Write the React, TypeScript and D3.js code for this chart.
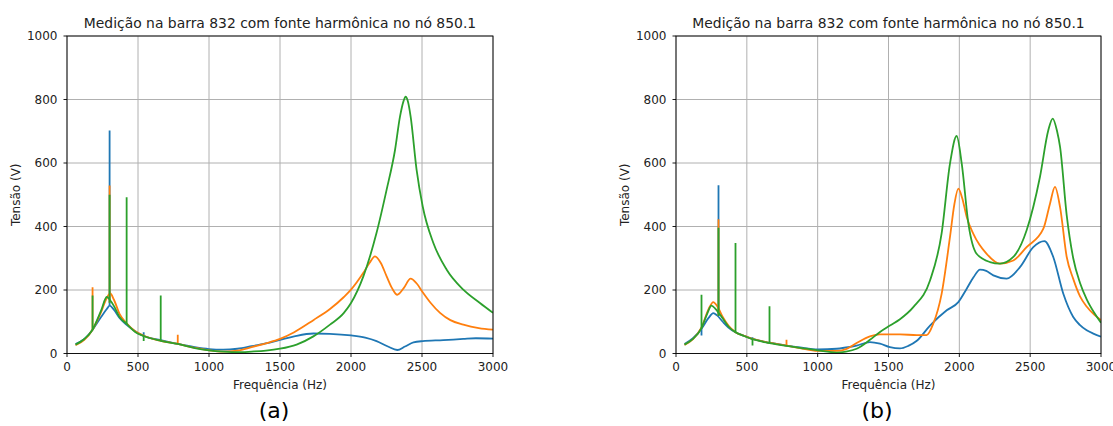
import React from "react";
import * as d3 from "d3";

// ---------- data ----------
const xTicks = [0, 500, 1000, 1500, 2000, 2500, 3000];
const yTicks = [0, 200, 400, 600, 800, 1000];
const titleText = "Medição na barra 832 com fonte harmônica no nó 850.1";
const xLabel = "Frequência (Hz)";
const yLabel = "Tensão (V)";
const captions = ["(a)", "(b)"];

// Panel (a) base curves: [frequency Hz, voltage V]
const aBlue: [number, number][] = [
  [60, 30], [120, 45], [180, 75], [240, 115], [280, 140], [300, 151], [330, 138], [370, 112], [420, 90],
  [480, 70], [540, 55], [660, 42], [780, 30], [900, 20], [1000, 14], [1100, 12], [1200, 15], [1300, 23],
  [1400, 32], [1500, 43], [1600, 54], [1735, 63], [1850, 62], [2000, 57], [2100, 50], [2180, 39],
  [2260, 22], [2326, 11], [2380, 22], [2440, 35], [2505, 39], [2650, 42], [2791, 46], [2880, 48], [3000, 47],
];
const aOrange: [number, number][] = [
  [60, 26], [120, 42], [180, 75], [240, 130], [280, 175], [305, 189], [330, 170], [370, 125], [420, 95],
  [480, 70], [540, 56], [660, 40], [780, 30], [900, 18], [1000, 10], [1100, 6], [1200, 9], [1300, 20],
  [1400, 32], [1500, 46], [1600, 67], [1735, 105], [1852, 140], [1950, 178], [2000, 201], [2087, 254],
  [2130, 285], [2169, 306], [2210, 285], [2251, 243], [2290, 205], [2326, 185], [2370, 205], [2420, 236],
  [2460, 222], [2505, 193], [2560, 160], [2627, 128], [2700, 105], [2791, 91], [2900, 80], [3000, 75],
];
const aGreen: [number, number][] = [
  [60, 28], [120, 45], [180, 75], [240, 135], [280, 178], [300, 170], [330, 150], [370, 115], [420, 93],
  [480, 68], [540, 55], [660, 40], [780, 30], [900, 17], [1000, 10], [1100, 6], [1200, 4], [1300, 6],
  [1400, 9], [1500, 15], [1617, 28], [1735, 54], [1852, 91], [1950, 128], [2000, 159], [2087, 243],
  [2180, 380], [2251, 516], [2310, 641], [2345, 746], [2370, 795], [2385, 809], [2400, 795], [2420, 746],
  [2462, 578], [2505, 463], [2580, 348], [2674, 264], [2791, 201], [2908, 159], [3000, 128],
];
// spikes: [frequency, from V, to V]
const aBlueSpikes: [number, number, number][] = [[300, 151, 702], [540, 55, 67]];
const aOrangeSpikes: [number, number, number][] = [[180, 75, 209], [300, 160, 529], [780, 30, 59]];
const aGreenSpikes: [number, number, number][] = [
  [180, 75, 183], [300, 160, 500], [420, 93, 492], [540, 55, 39], [660, 40, 183],
];

// Panel (b)
const bBlue: [number, number][] = [
  [60, 30], [120, 48], [180, 78], [230, 112], [263, 127], [290, 120], [330, 100], [370, 82], [420, 67],
  [480, 56], [540, 46], [660, 34], [780, 25], [875, 19], [1000, 13], [1134, 15], [1200, 19], [1275, 25],
  [1369, 36], [1440, 31], [1510, 20], [1581, 16], [1640, 24], [1700, 40], [1793, 88], [1911, 136],
  [1993, 162], [2052, 204], [2100, 240], [2146, 264], [2190, 260], [2240, 246], [2334, 236], [2428, 272],
  [2522, 335], [2600, 354], [2663, 304], [2734, 188], [2804, 115], [2850, 90], [2899, 73], [2950, 62], [3000, 53],
];
const bOrange: [number, number][] = [
  [60, 27], [120, 45], [180, 82], [230, 140], [263, 162], [290, 150], [330, 115], [370, 88], [420, 67],
  [480, 56], [540, 46], [660, 34], [780, 25], [875, 17], [1000, 8], [1134, 8], [1200, 14], [1275, 33],
  [1369, 54], [1440, 60], [1581, 60], [1700, 58], [1769, 58], [1816, 94], [1875, 188], [1934, 367],
  [1965, 470], [1993, 519], [2020, 490], [2052, 430], [2099, 377], [2193, 314], [2287, 283], [2381, 293],
  [2475, 335], [2593, 393], [2640, 472], [2675, 525], [2711, 461], [2758, 304], [2804, 235], [2852, 180],
  [2900, 147], [2950, 123], [3000, 105],
];
const bGreen: [number, number][] = [
  [60, 28], [120, 46], [180, 80], [220, 125], [250, 151], [280, 140], [330, 110], [370, 85], [420, 67],
  [480, 55], [540, 45], [660, 33], [780, 24], [875, 18], [1000, 10], [1134, 3], [1200, 6], [1275, 15],
  [1369, 43], [1440, 68], [1510, 88], [1581, 108], [1675, 146], [1793, 230], [1875, 378], [1934, 598],
  [1981, 685], [2017, 598], [2064, 409], [2122, 314], [2216, 288], [2287, 283], [2381, 304], [2475, 388],
  [2569, 556], [2628, 703], [2659, 740], [2690, 700], [2711, 651], [2758, 435], [2804, 300], [2852, 222],
  [2900, 170], [2950, 130], [3000, 97],
];
const bBlueSpikes: [number, number, number][] = [[180, 80, 57], [300, 118, 530], [540, 45, 51]];
const bOrangeSpikes: [number, number, number][] = [[300, 118, 423], [780, 25, 43]];
const bGreenSpikes: [number, number, number][] = [
  [180, 80, 185], [300, 118, 396], [420, 67, 348], [540, 45, 25], [660, 33, 149],
];

const colors = ["#1f77b4", "#ff7f0e", "#2ca02c"];

const panels = [
  {
    left: 67, right: 493, captionX: 274,
    series: [aBlue, aOrange, aGreen],
    spikes: [aBlueSpikes, aOrangeSpikes, aGreenSpikes],
  },
  {
    left: 676, right: 1101, captionX: 877,
    series: [bBlue, bOrange, bGreen],
    spikes: [bBlueSpikes, bOrangeSpikes, bGreenSpikes],
  },
];

const TOP = 36;
const BOTTOM = 353.5;
const FONT = "'DejaVu Sans', sans-serif";
const LW = 1.8;

function Panel({ p, idx }: { p: any; idx: number }) {
  const x = d3.scaleLinear().domain([0, 3000]).range([p.left, p.right]);
  const y = d3.scaleLinear().domain([0, 1000]).range([BOTTOM, TOP]);
  const line = d3
    .line<[number, number]>()
    .x((d) => x(d[0]))
    .y((d) => y(d[1]))
    .curve(d3.curveMonotoneX);
  const cx = (p.left + p.right) / 2;
  const cy = (TOP + BOTTOM) / 2;
  const clipId = `clip${idx}`;
  return (
    <g>
      <defs>
        <clipPath id={clipId}>
          <rect x={p.left} y={TOP} width={p.right - p.left} height={BOTTOM - TOP} />
        </clipPath>
      </defs>
      {/* grid */}
      {xTicks.map((t) => (
        <line key={"gx" + t} x1={x(t)} x2={x(t)} y1={TOP} y2={BOTTOM} stroke="#b0b0b0" strokeWidth={1} />
      ))}
      {yTicks.map((t) => (
        <line key={"gy" + t} x1={p.left} x2={p.right} y1={y(t)} y2={y(t)} stroke="#b0b0b0" strokeWidth={1} />
      ))}
      {/* series */}
      <g clipPath={`url(#${clipId})`}>
        {p.series.map((s: [number, number][], i: number) => (
          <g key={"s" + i}>
            <path d={line(s) || ""} fill="none" stroke={colors[i]} strokeWidth={LW} strokeLinejoin="round" />
            {p.spikes[i].map((sp: [number, number, number], j: number) => (
              <line
                key={"sp" + j}
                x1={x(sp[0])}
                x2={x(sp[0])}
                y1={y(sp[1])}
                y2={y(sp[2])}
                stroke={colors[i]}
                strokeWidth={LW}
                strokeLinecap="butt"
              />
            ))}
          </g>
        ))}
      </g>
      {/* spines */}
      <rect x={p.left} y={TOP} width={p.right - p.left} height={BOTTOM - TOP} fill="none" stroke="#000" strokeWidth={0.9} />
      {/* ticks */}
      {xTicks.map((t) => (
        <g key={"tx" + t}>
          <line x1={x(t)} x2={x(t)} y1={BOTTOM} y2={BOTTOM + 3.5} stroke="#000" strokeWidth={0.9} />
          <text x={x(t)} y={BOTTOM + 17.5} textAnchor="middle" fontSize={12} fontFamily={FONT} fill="#222">
            {t}
          </text>
        </g>
      ))}
      {yTicks.map((t) => (
        <g key={"ty" + t}>
          <line x1={p.left - 3.5} x2={p.left} y1={y(t)} y2={y(t)} stroke="#000" strokeWidth={0.9} />
          <text x={p.left - 9.5} y={y(t) + 4.3} textAnchor="end" fontSize={12} fontFamily={FONT} fill="#222">
            {t}
          </text>
        </g>
      ))}
      {/* labels */}
      <text x={cx} y={27.5} textAnchor="middle" fontSize={13.9} fontFamily={FONT} fill="#222">
        {titleText}
      </text>
      <text x={cx} y={388.5} textAnchor="middle" fontSize={12} fontFamily={FONT} fill="#222">
        {xLabel}
      </text>
      <text
        transform={`translate(${p.left - 51},${cy}) rotate(-90)`}
        textAnchor="middle"
        dominantBaseline="central"
        fontSize={12}
        fontFamily={FONT}
        fill="#222"
      >
        {yLabel}
      </text>
      <text x={p.captionX} y={418} textAnchor="middle" fontSize={22} fontFamily={FONT} fill="#000">
        {captions[idx]}
      </text>
    </g>
  );
}

export default function App() {
  return (
    <div style={{ position: "absolute", left: 0, top: 0 }}>
      <svg width={1113} height={426} style={{ display: "block", background: "#fff" }}>
        <rect width={1113} height={426} fill="#fff" />
        {panels.map((p, i) => (
          <Panel key={i} p={p} idx={i} />
        ))}
      </svg>
    </div>
  );
}
